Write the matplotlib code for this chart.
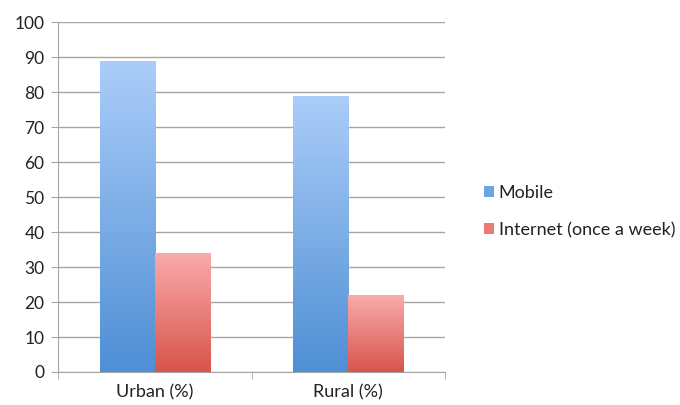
import matplotlib
matplotlib.use("Agg")
import matplotlib.pyplot as plt
import numpy as np
from matplotlib.colors import LinearSegmentedColormap
from matplotlib.patches import Patch

categories = ["Urban (%)", "Rural (%)"]
mobile = [89, 79]
internet = [34, 22]
series_names = ["Mobile", "Internet (once a week)"]
yticks = list(range(0, 101, 10))

plt.rcParams['font.family'] = ['Lato', 'DejaVu Sans']

fig = plt.figure(figsize=(6.8, 4.05), dpi=100)
ax = fig.add_axes([0.086, 0.0815, 0.568, 0.864])

x = np.arange(len(categories))
w = 0.285
grads = {
    "Mobile": ("#4f8fd5", "#abcdf9"),
    "Internet": ("#d8544b", "#f9abab"),
}


def gradient_bars(xs, vals, colors):
    cmap = LinearSegmentedColormap.from_list("g", colors)
    bars = ax.bar(xs, vals, width=w, color="none", edgecolor="none", zorder=3)
    for b in bars:
        x0 = b.get_x()
        im = ax.imshow(np.linspace(0, 1, 256).reshape(-1, 1), cmap=cmap,
                       extent=[x0, x0 + b.get_width(), 0, b.get_height()],
                       origin="lower", aspect="auto", zorder=3,
                       interpolation="bicubic")
        im.set_clip_path(b)
    return bars


gradient_bars(x - w / 2, mobile, grads["Mobile"])
gradient_bars(x + w / 2, internet, grads["Internet"])

ax.set_xlim(-0.5, 1.5)
ax.set_ylim(0, 100)
ax.set_yticks(yticks)
ax.yaxis.grid(True, color="#a6a6a6", linewidth=1.0, zorder=0)
ax.set_axisbelow(True)
for s in ["top", "right"]:
    ax.spines[s].set_visible(False)
ax.spines["left"].set_color("#a6a6a6")
ax.spines["bottom"].set_color("#a6a6a6")
ax.tick_params(axis="y", length=5, color="#a6a6a6", labelsize=12.5, pad=5,
               labelcolor="#222222")
ax.set_xticks([-0.5, 0.5, 1.5], minor=True)
ax.set_xticks(x)
ax.set_xticklabels(categories, fontsize=13, color="#222222")
ax.tick_params(axis="x", which="major", length=0, pad=9)
ax.tick_params(axis="x", which="minor", length=5, color="#a6a6a6")

handles = [Patch(facecolor="#6fa3e3", label=series_names[0]),
           Patch(facecolor="#ea7c78", label=series_names[1])]
fig.legend(handles=handles, loc="center left", bbox_to_anchor=(0.688, 0.478),
           frameon=False, fontsize=13, handlelength=0.55, handleheight=0.55,
           handletextpad=0.25, labelspacing=1.2, labelcolor="#222222")

fig.savefig("out.png", dpi=100)
